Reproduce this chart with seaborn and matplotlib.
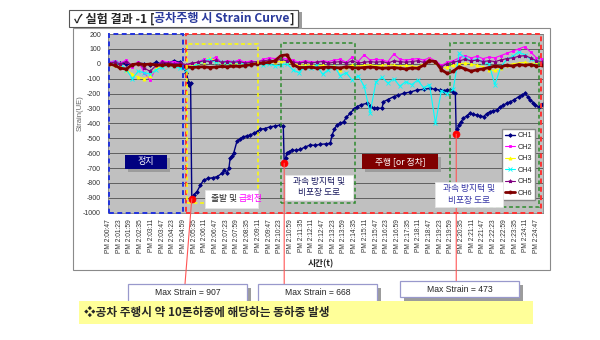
import numpy as np
import matplotlib
matplotlib.use("Agg")
import matplotlib.pyplot as plt
import seaborn as sns
from matplotlib.patches import Rectangle, ConnectionPatch

sns.set_theme(style="white")
plt.rcParams['font.family'] = ['Noto Sans CJK KR', 'DejaVu Sans']

# ---------------- data ----------------
xtick_labels = ["PM 2:00:47", "PM 2:01:23", "PM 2:01:59", "PM 2:02:35", "PM 2:03:11",
                "PM 2:03:47", "PM 2:04:23", "PM 2:04:59", "PM 2:05:35", "PM 2:06:11",
                "PM 2:06:47", "PM 2:07:23", "PM 2:07:59", "PM 2:08:35", "PM 2:09:11",
                "PM 2:09:47", "PM 2:10:23", "PM 2:10:59", "PM 2:11:35", "PM 2:12:11",
                "PM 2:12:47", "PM 2:13:23", "PM 2:13:59", "PM 2:14:35", "PM 2:15:11",
                "PM 2:15:47", "PM 2:16:23", "PM 2:16:59", "PM 2:17:35", "PM 2:18:11",
                "PM 2:18:47", "PM 2:19:23", "PM 2:19:59", "PM 2:20:35", "PM 2:21:11",
                "PM 2:21:47", "PM 2:22:23", "PM 2:22:59", "PM 2:23:35", "PM 2:24:11",
                "PM 2:24:47"]
tick_step_s = 36  # seconds between labelled samples

# CH1: elapsed seconds from PM 2:00:47 and strain (uE)
t_ch1 = [0, 20, 40, 60, 80, 100, 120, 140, 160, 180,
         200, 220, 240, 250, 262, 268, 272, 276, 280, 286,
         297, 309, 320, 335, 350, 365, 382, 390, 398, 405,
         409, 415, 421, 432, 442, 453, 465, 477, 490, 499,
         510, 525, 544, 560, 578, 588, 591, 596, 600, 608,
         617, 630, 645, 660, 679, 695, 712, 730, 746, 752,
         760, 768, 780, 791, 800, 813, 825, 836, 850, 869,
         880, 892, 905, 920, 925, 940, 959, 975, 993, 1015,
         1038, 1060, 1082, 1100, 1116, 1130, 1139, 1150, 1160, 1167,
         1170, 1174, 1178, 1186, 1194, 1205, 1217, 1228, 1240, 1250,
         1262, 1272, 1284, 1295, 1307, 1318, 1329, 1340, 1352, 1366,
         1380, 1392, 1402, 1410, 1419, 1428, 1436, 1447, 1455, 1462]
ch1 = [0, -5, 5, 0, -10, 5, 0, -5, 10, 0,
       5, 20, 10, -20, -60, -120, -140, -130, -907, -880,
       -860, -815, -780, -770, -765, -758, -735, -713, -735, -700,
       -635, -620, -600, -520, -505, -490, -485, -478, -465, -456,
       -440, -435, -423, -418, -411, -418, -668, -630, -601, -590,
       -579, -582, -575, -560, -545, -548, -541, -538, -534, -478,
       -440, -411, -400, -389, -360, -333, -305, -288, -275, -266,
       -285, -299, -298, -299, -255, -240, -221, -210, -198, -190,
       -176, -172, -165, -172, -176, -180, -176, -176, -190, -198,
       -473, -440, -411, -390, -366, -350, -333, -340, -344, -350,
       -355, -335, -322, -315, -310, -290, -277, -265, -255, -240,
       -221, -210, -198, -220, -243, -260, -277, -288, -275, -272]

# CH2..CH6 sampled every 20 s
t_grid = np.arange(0, 1461, 20)
ch2 = [10, 20, 5, 25, -20, 15, -60, -110, -20, 20,
       10, 15, 5, -10, 0, 10, 30, 20, 45, 10,
       20, 15, 25, 10, 20, 10, 30, 40, 35, 45,
       30, 25, 10, 20, 15, 10, 20, 15, 25, 30,
       10, 45, 15, 60, 25, 30, 25, 15, 65, 30,
       25, 30, 35, 25, 40, 20, -10, 10, 20, 40,
       55, 40, 50, 35, 45, 40, 55, 70, 85, 100,
       115, 80, 40, 30]
ch3 = [0, -10, -20, -40, -70, -90, -100, -80, -30, -10,
       0, -5, -15, -20, -10, 0, 15, 40, 20, 10,
       0, 5, -5, 0, 5, 10, 5, 15, 10, 20,
       10, 0, -5, -10, -5, -15, -10, -20, -15, -40,
       -20, -10, -15, -10, -5, -15, -10, -5, -10, -15,
       -10, -15, -20, 0, 30, 10, -30, -20, -10, 0,
       5, 0, -10, -20, -40, -45, -30, -10, 0, 5,
       10, 0, 10, 5]
ch4 = [5, 10, 0, -40, -100, -50, -60, -70, -40, -20,
       -10, -15, -30, -40, -20, 0, 20, 30, 10, 15,
       0, 10, 5, -5, 0, 5, -10, 0, -15, -10,
       0, -40, -60, -20, -30, -10, -70, -40, -20, -80,
       -60, -110, -80, -150, -330, -120, -90, -130, -100, -150,
       -120, -140, -110, -160, -140, -400, -180, -200, -170, 70,
       40, 20, 30, 10, 0, -140, -20, 30, 50, 80,
       60, 30, 20, 10]
ch5 = [5, 10, 0, 15, -10, 5, -30, -50, -10, 10,
       5, 0, 5, -5, 5, 10, 20, 15, 25, 10,
       15, 10, 15, 5, 10, 15, 20, 25, 20, 30,
       20, 10, 5, 10, 5, 10, 15, 5, 10, 15,
       5, 20, 5, 10, 15, 10, 15, 5, 20, 15,
       10, 15, 20, 10, 25, 10, -20, 0, 10, 20,
       30, 20, 25, 15, 20, 15, 25, 35, 40, 50,
       55, 40, 20, 15]
ch6 = [0, -10, -30, -35, -5, 0, -5, -2, -8, -10,
       -5, -12, -10, -20, -25, -22, -20, -25, -22, -18,
       -20, -15, -18, -12, -5, 0, 5, 10, 20, 55,
       60, -5, -25, -25, -22, -28, -25, -22, -25, -28,
       -20, -25, -28, -25, -22, -25, -30, -28, -25, -30,
       -35, -28, -30, -10, 20, 15, -40, -65, -50, -20,
       -35, -50, -40, -35, -25, -15, -20, -10, -15, -5,
       -10, -5, -15, -10]

# peak strain events
max_times = [280, 591, 1170]
max_values = [-907, -668, -473]

# ---------------- figure ----------------
W, H = 600, 340
fig = plt.figure(figsize=(W / 100, H / 100), dpi=100)
fig.patch.set_facecolor('white')

bg = fig.add_axes([0, 0, 1, 1], zorder=-5)
bg.set_xlim(0, W); bg.set_ylim(H, 0); bg.axis('off')
bg.add_patch(Rectangle((72.5, 28), 477.5, 242, fc='white', ec='#8a8a8a', lw=0.8))

ax = fig.add_axes([108 / W, 1 - 212.7 / H, 435 / W, 178.7 / H], zorder=0)
ax.set_facecolor('#C0C0C0')

series = [
    ("CH1", t_ch1, ch1, '#000080', 'D', 1.9, 1.0),
    ("CH2", t_grid, ch2, '#FF00FF', 's', 2.0, 0.8),
    ("CH3", t_grid, ch3, '#FFFF00', '^', 2.2, 0.8),
    ("CH4", t_grid, ch4, '#00FFFF', 'x', 2.4, 0.8),
    ("CH5", t_grid, ch5, '#800080', '*', 2.6, 0.8),
    ("CH6", t_grid, ch6, '#800000', 'o', 2.2, 2.0),
]
for name, tx, vals, col, mk, ms, lw in series:
    sns.lineplot(x=list(tx), y=vals, ax=ax, color=col, marker=mk, markersize=ms,
                 markeredgecolor=col, markeredgewidth=0.6, linewidth=lw,
                 label=name, estimator=None, sort=False)

ax.set_xlim(-2, 1462)
ax.set_ylim(-1000, 200)
ax.set_yticks(np.arange(-1000, 201, 100))
ax.set_yticklabels([str(v) for v in np.arange(-1000, 201, 100)], fontsize=5,
                   family=['Liberation Sans', 'DejaVu Sans'])
ax.set_xticks([i * tick_step_s for i in range(len(xtick_labels))])
ax.set_xticklabels(xtick_labels, rotation=90, fontsize=4.8, color='#333333',
                   family=['Liberation Sans', 'DejaVu Sans'])
ax.tick_params(axis='both', length=2, width=0.5, pad=2.5, colors='#333333')
ax.tick_params(axis='y', pad=3)
ax.grid(axis='y', color='#505050', lw=0.6)
ax.grid(axis='x', visible=False)
ax.set_axisbelow(True)
for sp in ax.spines.values():
    sp.set_color('#808080'); sp.set_linewidth(0.6)
ax.set_xlabel("")
ax.set_ylabel("Strain(UE)", fontsize=5.5, color='#666666',
              family=['Liberation Sans', 'DejaVu Sans'])
ax.yaxis.set_label_coords(-0.055, 0.56)

# dashed phase frames (time s, strain)
frames = [
    (2, 251, -1000, 200, '#2233DD', 1.4),
    (261, 1456, -1000, 200, '#FF3333', 1.4),
    (264, 502, -937, 133, '#FFFF00', 1.1),
    (581, 828, -937, 137, '#2E8B2E', 1.1),
    (1150, 1447, -960, 137, '#2E8B2E', 1.1),
]
for x0, x1, y0, y1, col, lw in frames:
    ax.add_patch(Rectangle((x0, y0), x1 - x0, y1 - y0, fill=False, ec=col, lw=lw,
                           ls=(0, (2.5, 1.8)), clip_on=False, zorder=6))

sns.scatterplot(x=max_times, y=max_values, ax=ax, color='#FF0000', s=26,
                edgecolor='#FF0000', zorder=8, legend=False, clip_on=False)

leg = ax.legend(loc='lower right', bbox_to_anchor=(0.99, 0.052),
                frameon=True, fancybox=False, edgecolor='#888888', framealpha=1,
                handlelength=1.4, handletextpad=0.4, labelspacing=0.62,
                borderpad=0.4, prop={'family': ['Liberation Sans', 'DejaVu Sans'], 'size': 5.2})
leg.set_zorder(9)

# ---------------- annotation layer ----------------
ov = fig.add_axes([0, 0, 1, 1], zorder=10)
ov.set_xlim(0, W); ov.set_ylim(H, 0); ov.axis('off'); ov.patch.set_alpha(0)


def box(x0, y0, x1, y1, fc, ec='none', lw=0.6, shadow=None, z=2):
    if shadow:
        ov.add_patch(Rectangle((x0 + shadow[0], y0 + shadow[1]), x1 - x0, y1 - y0,
                               fc='#9c9c9c', ec='none', zorder=z))
    ov.add_patch(Rectangle((x0, y0), x1 - x0, y1 - y0, fc=fc, ec=ec, lw=lw, zorder=z + 0.1))


# title
box(69, 10, 298, 27, 'white', ec='#555555', lw=0.8, shadow=(4, 2))
t1 = ov.text(74, 18.7, "✓ 실험 결과 -1 [", fontsize=8.7, fontweight='bold',
             va='center', ha='left', zorder=4)
t2 = ov.annotate("공차주행 시 Strain Curve", xy=(1, 0), xycoords=t1, va='bottom', ha='left',
                 fontsize=8.7, fontweight='bold', color='#2A3A9C', zorder=4)
ov.annotate("]", xy=(1, 0), xycoords=t2, va='bottom', ha='left',
            fontsize=8.7, fontweight='bold', zorder=4)

ov.text(321, 264, "시간(t)", fontsize=6.3, fontweight='bold', ha='center', va='center',
        color='#222222')

# phase labels inside the plot
box(125, 155, 167, 168.5, '#000080', shadow=(3, 3))
ov.text(146, 161.7, "정지", color='white', fontsize=6.5, ha='center', va='center', zorder=4)

box(205, 190, 258, 208, 'white', ec='#e6e6e6')
s1 = ov.text(211, 199, "출발 및 ", fontsize=6.3, ha='left', va='center', zorder=4)
ov.annotate("급회전", xy=(1, 0), xycoords=s1, va='bottom', ha='left', fontsize=6.3,
            color='#FF00FF', zorder=4)

box(285, 175, 353, 199.5, 'white', ec='#e6e6e6')
ov.text(319, 187.2, "과속 방지턱 및\n비포장 도로", fontsize=6.3, ha='center', va='center',
        color='#1a1a5e', linespacing=1.35, zorder=4)

box(362, 154, 438, 169.3, '#800000', shadow=(3, 3))
ov.text(400, 161.7, "주행 [or 정차]", color='white', fontsize=6.3, ha='center',
        va='center', zorder=4)

box(435, 182, 503, 207, 'white', ec='#e6e6e6')
ov.text(469, 194.5, "과속 방지턱 및\n비포장 도로", fontsize=6.3, ha='center', va='center',
        color='#3535A5', linespacing=1.35, zorder=4)

# peak callouts
callout_boxes = [(128, 284, 247, 305), (258, 284, 377, 305), (400, 281, 519, 297)]
line_ends_x = [185, None, None]
for (bx0, by0, bx1, by1), tm, vm, ex in zip(callout_boxes, max_times, max_values, line_ends_x):
    px = ov.transData.inverted().transform(ax.transData.transform((tm, vm)))[0]
    endx = px if ex is None else ex
    con = ConnectionPatch(xyA=(tm, vm), coordsA=ax.transData, xyB=(endx, by0),
                          coordsB=ov.transData, color='#FF5555', lw=0.8, zorder=1)
    ov.add_artist(con)
    box(bx0, by0, bx1, by1, 'white', ec='#9999CC', lw=0.9, shadow=(4, 4))
    ov.text((bx0 + bx1) / 2, by0 + 8.3, f"Max Strain = {abs(vm)}", fontsize=6.2,
            ha='center', va='center', family=['Liberation Sans', 'DejaVu Sans'], zorder=4)

# summary banner
ov.add_patch(Rectangle((79, 300.7), 454, 23.6, fc='#FFFF99', ec='none', zorder=6))
ov.text(84, 312.5, "❖공차 주행시 약 10톤하중에 해당하는 동하중 발생", fontsize=8.4,
        fontweight='bold', ha='left', va='center', zorder=7)

fig.savefig("out.png", dpi=100)
